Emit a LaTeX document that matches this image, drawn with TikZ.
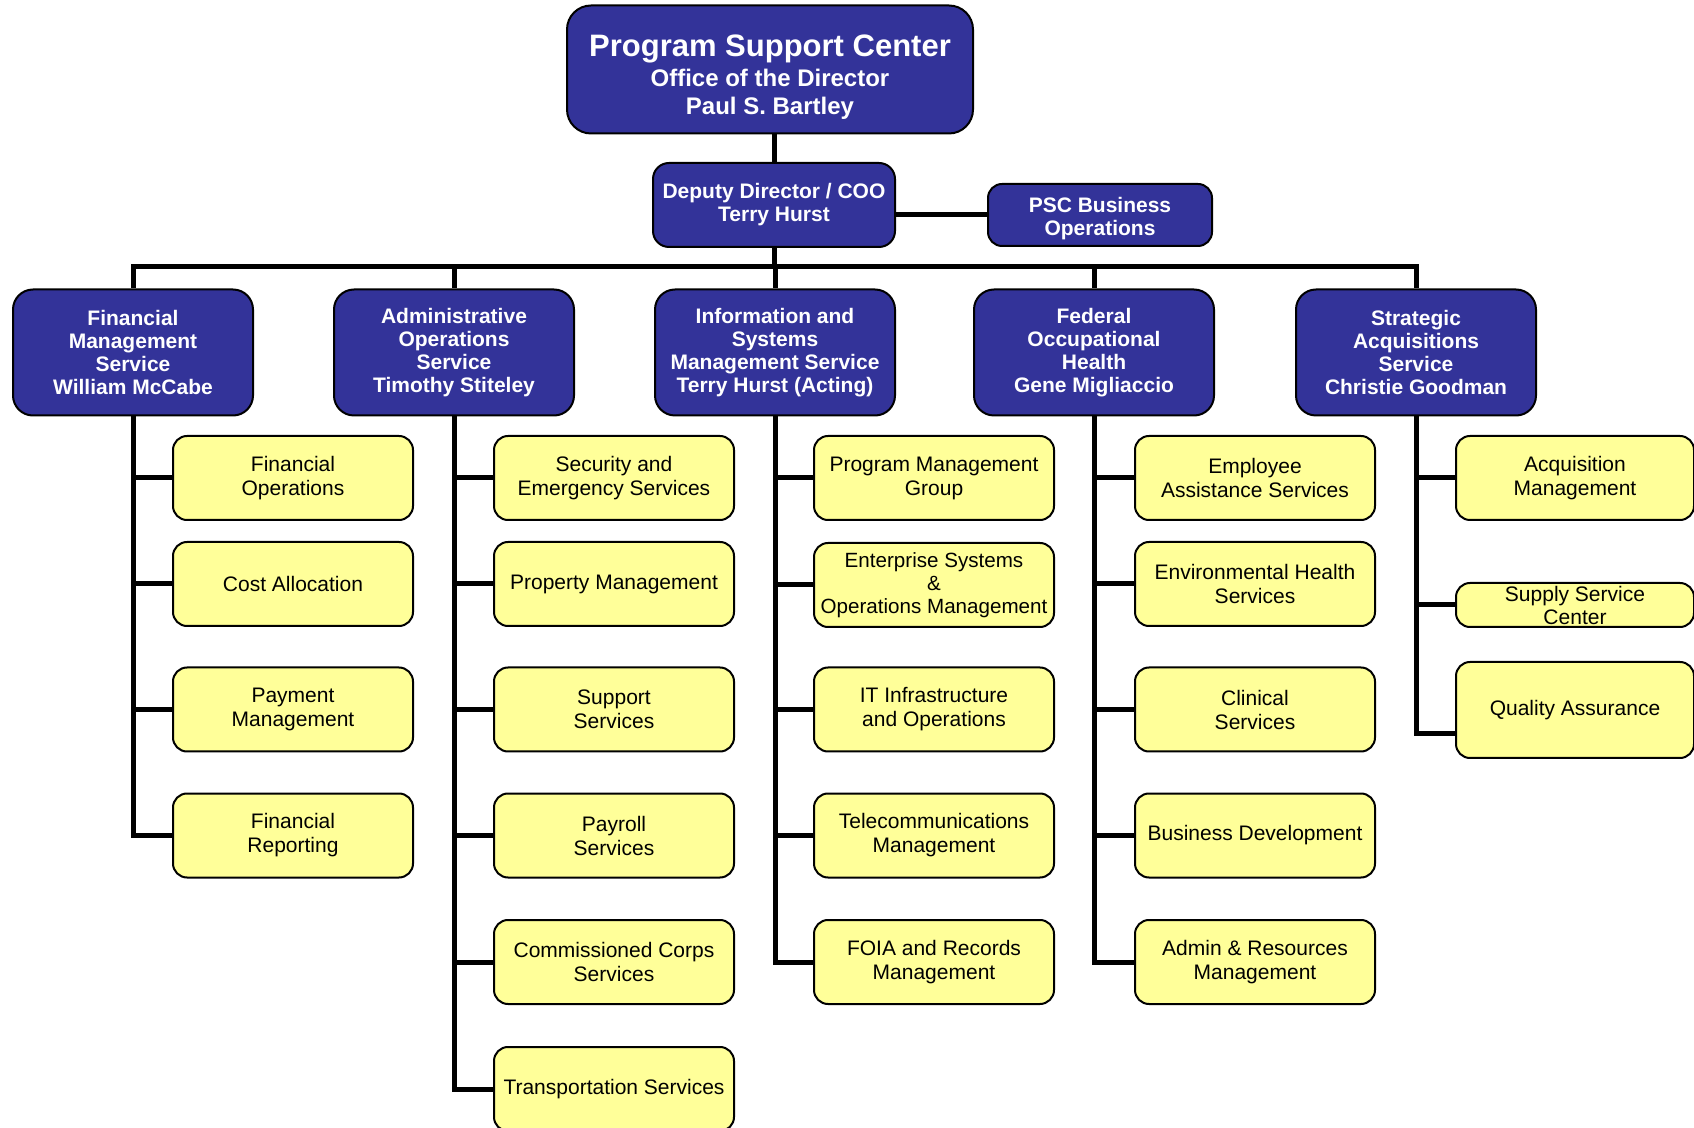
\documentclass[tikz,border=0pt]{standalone}
\usepackage{fontspec}
\setmainfont{Liberation Sans}
\definecolor{pscblue}{RGB}{51,51,153}
\definecolor{pscyellow}{RGB}{255,255,153}
\pgfdeclarelayer{bg}
\pgfsetlayers{bg,main}
\tikzset{
  bluebox/.style={draw=black, line width=1pt, fill=pscblue, text=white, align=center, inner sep=0pt,
    font=\bfseries\fontsize{10.5}{11.5}\selectfont},
  topbox/.style={bluebox, rounded corners=12pt, minimum width=203pt, minimum height=64pt,
    font=\bfseries\fontsize{12}{14}\selectfont},
  depbox/.style={bluebox, rounded corners=8pt, minimum width=121pt, minimum height=42pt},
  pscbox/.style={bluebox, rounded corners=7pt, minimum width=112pt, minimum height=31pt},
  lvltwo/.style={bluebox, rounded corners=10pt, minimum width=120pt, minimum height=63pt},
  child/.style={draw=black, line width=1pt, fill=pscyellow, text=black, align=center, inner sep=0pt,
    rounded corners=7pt, minimum width=120pt, minimum height=42pt,
    font=\fontsize{10.5}{12}\selectfont},
  conn/.style={draw=black, line width=2.5pt}
}
\begin{document}
\begin{tikzpicture}[x=0.5pt,y=-0.5pt]
\useasboundingbox (0,0) rectangle (1694,1128);
% top
\node[topbox] (top) at (770,69.5) {\rule{0pt}{18pt}{\fontsize{15.5}{15}\selectfont Program Support Center}\\[1pt]Office of the Director\\Paul S. Bartley};
\node[depbox] (dep) at (774,205) {Deputy Director / COO\\Terry Hurst};
\node[pscbox] (psc) at (1100,215) {\rule{0pt}{11pt}PSC Business\\Operations};
% level 2
\node[lvltwo] (fm) at (133,352.5) {Financial\\Management\\Service\\William McCabe};
\node[lvltwo] (ad) at (454,352.5) {Administrative\\Operations\\Service\\Timothy Stiteley};
\node[lvltwo] (is) at (775,352.5) {Information and\\Systems\\Management Service\\Terry Hurst (Acting)};
\node[lvltwo] (fo) at (1094,352.5) {Federal\\Occupational\\Health\\Gene Migliaccio};
\node[lvltwo] (sa) at (1416,352.5) {Strategic\\Acquisitions\\Service\\Christie Goodman};
% column 1
\node[child] (f1) at (293,478) {Financial\\Operations};
\node[child] (f2) at (293,584) {Cost Allocation};
\node[child] (f3) at (293,709.5) {Payment\\Management};
\node[child] (f4) at (293,835.5) {Financial\\Reporting};
% column 2
\node[child] (a1) at (614,478) {Security and\\Emergency Services};
\node[child] (a2) at (614,584) {Property Management};
\node[child] (a3) at (614,709.5) {Support\\Services};
\node[child] (a4) at (614,835.5) {Payroll\\Services};
\node[child] (a5) at (614,962) {Commissioned Corps\\Services};
\node[child] (a6) at (614,1089) {Transportation Services};
% column 3
\node[child] (i1) at (934,478) {Program Management\\Group};
\node[child, font=\fontsize{10.3}{11.5}\selectfont] (i2) at (934,585) {Enterprise Systems\\\&\\Operations Management};
\node[child] (i3) at (934,709.5) {IT Infrastructure\\and Operations};
\node[child] (i4) at (934,835.5) {Telecommunications\\Management};
\node[child] (i5) at (934,962) {FOIA and Records\\Management};
% column 4
\node[child] (h1) at (1255,478) {Employee\\Assistance Services};
\node[child] (h2) at (1255,584) {Environmental Health\\Services};
\node[child] (h3) at (1255,709.5) {Clinical\\Services};
\node[child] (h4) at (1255,835.5) {Business Development};
\node[child] (h5) at (1255,962) {Admin \& Resources\\Management};
% column 5
\node[child, minimum width=119pt] (s1) at (1575,478) {Acquisition\\Management};
\node[child, minimum width=119pt, minimum height=22pt, font=\fontsize{10.5}{11.5}\selectfont] (s2) at (1575,605) {Supply Service\\Center};
\node[child, minimum width=119pt, minimum height=48pt] (s3) at (1575,710) {Quality Assurance};
% connectors
\coordinate (bar) at (0,267);
\begin{pgfonlayer}{bg}
\draw[conn] (top.south -| dep.north) -- (dep.north);
\draw[conn] (dep.east |- psc.west) -- (psc.west);
\draw[conn] (dep.south) -- (dep.south |- bar);
\draw[conn] (fm.north) -- (fm.north |- bar) -- (sa.north |- bar) -- (sa.north);
\draw[conn] (ad.north |- bar) -- (ad.north);
\draw[conn] (is.north |- bar) -- (is.north);
\draw[conn] (fo.north |- bar) -- (fo.north);
\draw[conn] (fm.south) |- (f4.west);
\foreach \c in {f1,f2,f3} \draw[conn] (fm.south |- \c.west) -- (\c.west);
\draw[conn] (ad.south) |- (a6.west);
\foreach \c in {a1,a2,a3,a4,a5} \draw[conn] (ad.south |- \c.west) -- (\c.west);
\draw[conn] (is.south) |- (i5.west);
\foreach \c in {i1,i2,i3,i4} \draw[conn] (is.south |- \c.west) -- (\c.west);
\draw[conn] (fo.south) |- (h5.west);
\foreach \c in {h1,h2,h3,h4} \draw[conn] (fo.south |- \c.west) -- (\c.west);
\draw[conn] (sa.south) |- ([yshift=-12pt]s3.west);
\foreach \c in {s1,s2} \draw[conn] (sa.south |- \c.west) -- (\c.west);
\end{pgfonlayer}
\end{tikzpicture}
\end{document}
